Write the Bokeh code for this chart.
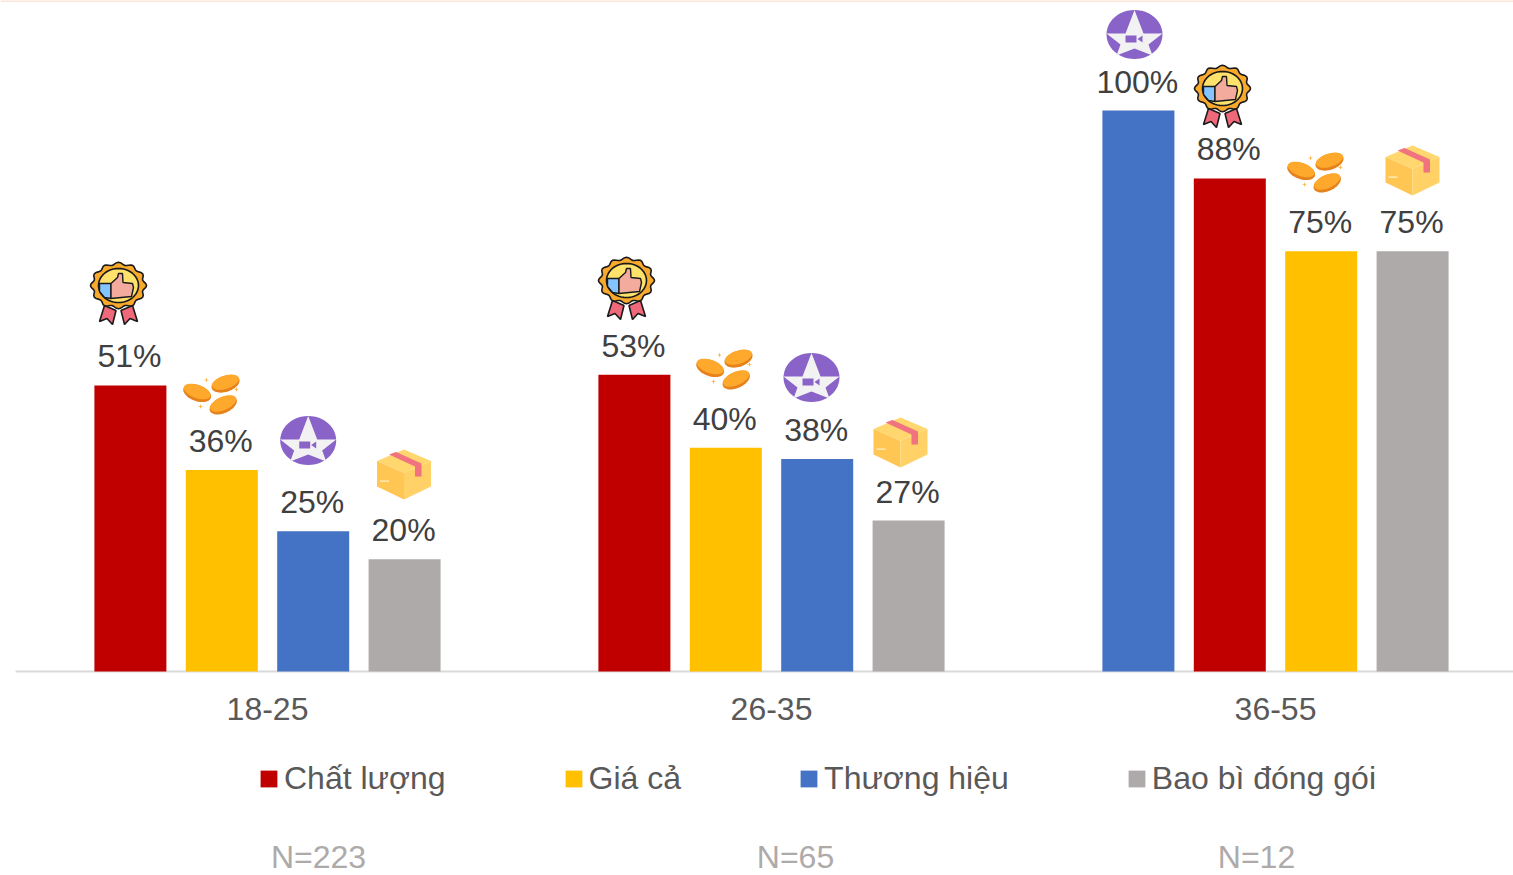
import numpy as np
from bokeh.core.properties import value
from bokeh.embed import file_html
from bokeh.models import ColumnDataSource, Legend, LegendItem, Range1d
from bokeh.plotting import figure
from bokeh.resources import INLINE

groups = ["18-25", "26-35", "36-55"]
series = ["Chất lượng", "Giá cả", "Thương hiệu", "Bao bì đóng gói"]
colors = ["#C00000", "#FFC000", "#4472C4", "#AEAAAA"]
quality = [51.0, 52.9, 87.9]
price = [35.9, 39.9, 74.9]
brand = [25.0, 37.9, 100.0]
package = [20.0, 26.9, 74.9]
quality_labels = ["51%", "53%", "88%"]
price_labels = ["36%", "40%", "75%"]
brand_labels = ["25%", "38%", "100%"]
package_labels = ["20%", "27%", "75%"]
quality_slot = [0, 0, 1]
price_slot = [1, 1, 2]
brand_slot = [2, 2, 0]
package_slot = [3, 3, 3]
sample_sizes = ["N=223", "N=65", "N=12"]

FONT = "Liberation Sans"
W, H = 1513, 875
BASE_Y, PX_PER_PCT = 671, 5.61
G0, G_STEP = 267, 504
SLOT = 91.4 / G_STEP
BAR_W = 72 / G_STEP


def to_x(px):
    return (np.asarray(px, dtype=float) - G0) / G_STEP


def to_y(px):
    return (BASE_Y - np.asarray(px, dtype=float)) / PX_PER_PCT


p = figure(width=W, height=H, output_backend="svg", toolbar_location=None,
           x_range=Range1d(float(to_x(0)), float(to_x(W))),
           y_range=Range1d(float(to_y(H)), float(to_y(0))),
           min_border=0, outline_line_color=None,
           background_fill_color="white", border_fill_color="white")
p.grid.visible = False
p.axis.visible = False

# baseline and the thin band along the top edge
p.segment(x0=[float(to_x(15))], x1=[float(to_x(W))], y0=[0], y1=[0],
          line_color="#D9D9D9", line_width=2)
p.segment(x0=[float(to_x(0))], x1=[float(to_x(W))], y0=[float(to_y(0.5))], y1=[float(to_y(0.5))],
          line_color="#FBE5D6", line_width=2)


def caption(xs, ys, texts, color):
    p.text(x=xs, y=ys, text=texts, text_align="center", text_baseline="alphabetic",
           text_font=value(FONT), text_font_size="32px", text_color=color)


caption(list(range(3)), [float(to_y(708))] * 3, groups, "#595959")
caption([float(to_x(c)) for c in (318, 795, 1256)], [float(to_y(b)) for b in (856, 856, 856)],
        sample_sizes, "#AEAAAA")

items = []
rows = [(quality, quality_labels, quality_slot), (price, price_labels, price_slot),
        (brand, brand_labels, brand_slot), (package, package_labels, package_slot)]
for name, col, (vals, labs, slots) in zip(series, colors, rows):
    xs = [i + (s - 1.5) * SLOT for i, s in enumerate(slots)]
    src = ColumnDataSource(dict(x=xs, top=vals, lab=labs))
    r = p.vbar(x="x", top="top", bottom=0, width=BAR_W, source=src, fill_color=col, line_color=None)
    p.text(x="x", y="top", text="lab", source=src, text_align="center", text_baseline="alphabetic",
           y_offset=-29, x_offset=-1, text_font=value(FONT), text_font_size="32px", text_color="#404040")
    items.append(LegendItem(label=name, renderers=[r]))

legend = Legend(items=items, orientation="horizontal", location=(258, 78), spacing=117,
                glyph_width=21, glyph_height=21, label_standoff=5, padding=0, margin=0,
                label_text_font=FONT, label_text_font_size="32px", label_text_color="#595959",
                background_fill_alpha=0, border_line_color=None, label_height=21)
p.add_layout(legend, "center")


# ---- decorative icons, drawn in pixel offsets around an anchor ----
def poly(cx, cy, pts, fill, line=None, lw=1.0):
    a = np.asarray(pts, dtype=float)
    p.patch(to_x(cx + a[:, 0]), to_y(cy + a[:, 1]), fill_color=fill, line_color=line, line_width=lw)


def ell(rx, ry, ox=0.0, oy=0.0, rot=0.0, n=48):
    t = np.linspace(0, 2 * np.pi, n, endpoint=False)
    x, y = rx * np.cos(t), ry * np.sin(t)
    c, s = np.cos(np.radians(rot)), np.sin(np.radians(rot))
    return np.c_[ox + x * c - y * s, oy + x * s + y * c]


def medal(cx, cy):
    k = "#1A1A1A"
    poly(cx, cy, [(-14, 20), (-2.5, 25), (-6, 39), (-11.5, 33), (-19, 36)], "#F0697A", k, 1.6)
    poly(cx, cy, [(2.5, 25), (14, 20), (19, 36), (11.5, 33), (6, 39)], "#F0697A", k, 1.6)
    t = np.linspace(0, 2 * np.pi, 96, endpoint=False)
    r = 26.5 + 1.5 * np.cos(12 * t)
    poly(cx, cy, np.c_[r * np.cos(t), 0.83 * r * np.sin(t)], "#F9A92B", k, 1.6)
    poly(cx, cy, ell(20, 17), "#FFE26B", k, 1.6)
    poly(cx, cy, [(-19, -2), (-7.5, -2), (-7.5, 13), (-14, 12), (-19, 6)], "#85C5FF", k, 1.4)
    poly(cx, cy, [(-7.5, -2), (-1, -8), (0, -12), (4, -12), (4.5, -3), (14, -2), (15, 2), (13, 11), (-7.5, 13)],
         "#F2AB9C", k, 1.4)


def coins(cx, cy):
    for ox, oy, rot in [(-14.3, -1, 20), (14, -10.3, -18), (11.7, 11, -24)]:
        poly(cx, cy, ell(14.5, 8, ox, oy + 1.6, rot), "#E5821B")
        poly(cx, cy, ell(14, 6.6, ox, oy, rot), "#FFA92C")
    for ox, oy in [(-5, -12.5), (25, -3), (-11, 14)]:
        poly(cx, cy, [(-2.5, 0), (-0.6, -0.6), (0, -2.5), (0.6, -0.6), (2.5, 0), (0.6, 0.6), (0, 2.5), (-0.6, 0.6)]
             + np.array([ox, oy]), "#FFB347")


def star(cx, cy):
    poly(cx, cy, ell(28, 24.5), "#8A63C8")
    poly(cx, cy, [(0, -24.5), (9, -1), (28, -1), (14, 10), (18, 21), (0, 14), (-18, 21), (-14, 10), (-28, -1), (-9, -1)],
         "#F2F2F2")
    poly(cx, cy, [(-9, 1), (2, 1), (2, 8), (-9, 8)], "#8A63C8")
    poly(cx, cy, [(3, 4.5), (8, 1), (8, 8)], "#8A63C8")


def box(cx, cy):
    poly(cx, cy, [(0, -25), (27, -13.5), (0, -1.5), (-27, -13.5)], "#FFD76E")
    poly(cx, cy, [(-27, -13.5), (0, -1.5), (0, 25), (-27, 12)], "#FFC654")
    poly(cx, cy, [(27, -13.5), (0, -1.5), (0, 25), (27, 12)], "#FFD166")
    poly(cx, cy, [(-15, -20), (-8, -22.5), (17.5, -11), (17.5, 2), (11, 2), (11, -8)], "#F0737F")
    poly(cx, cy, [(-24, 6), (-15, 6), (-15, 7.2), (-24, 7.2)], "#FFF1C9")


for c in [(118, 285), (626, 280), (1222, 88)]:
    medal(*c)
for c in [(211, 392), (724, 367), (1315, 170)]:
    coins(*c)
for c in [(307.7, 440), (811, 377), (1134, 34)]:
    star(*c)
for c in [(403.5, 474), (900, 442), (1412, 170)]:
    box(*c)

open("out.html", "w").write(file_html(p, INLINE))
